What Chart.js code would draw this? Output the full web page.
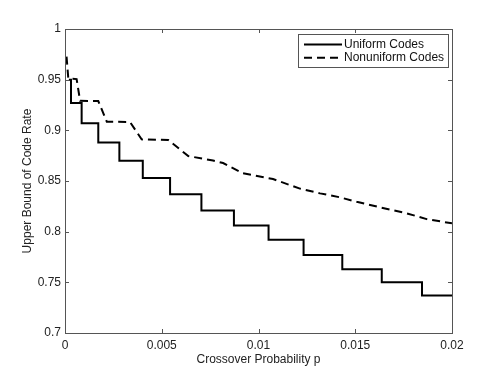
<!DOCTYPE html>
<html>
<head>
<meta charset="utf-8">
<script src="https://cdn.jsdelivr.net/npm/chart.js@4.4.1/dist/chart.umd.min.js"></script>
<style>
  body { margin: 0; background: #fff; }
  #wrap { width: 498px; height: 375px; }
</style>
</head>
<body>
<div id="wrap"><canvas id="myChart" width="498" height="375"></canvas></div>
<script>
// crossover probability where the uniform-code bound drops, and the new level
var uniformP = [0.0002, 0.00031, 0.00086, 0.00172, 0.00281, 0.00402, 0.00543, 0.00705, 0.00873, 0.01052, 0.01233, 0.01433, 0.01637, 0.01845, 0.02];
var uniformRate = [0.95, 0.927, 0.907, 0.888, 0.870, 0.853, 0.837, 0.821, 0.806, 0.792, 0.777, 0.763, 0.750, 0.737, 0.737];

var nonuniformP = [0.00008, 0.00017, 0.0006, 0.00078, 0.00172, 0.00216, 0.00336, 0.00396, 0.00534, 0.00637, 0.00765, 0.00817, 0.0092, 0.01075, 0.01214, 0.01318, 0.01421, 0.01507, 0.01628, 0.01766, 0.01869, 0.02];
var nonuniformRate = [0.9727, 0.9513, 0.9506, 0.9292, 0.9289, 0.9085, 0.9082, 0.8911, 0.8904, 0.8746, 0.8702, 0.8677, 0.8576, 0.8519, 0.8425, 0.8378, 0.8339, 0.8295, 0.8240, 0.8181, 0.8124, 0.8082];

var xTicks = [0, 0.005, 0.01, 0.015, 0.02];
var yTicks = [0.7, 0.75, 0.8, 0.85, 0.9, 0.95, 1];
var xTickLabels = ['0', '0.005', '0.01', '0.015', '0.02'];
var yTickLabels = ['0.7', '0.75', '0.8', '0.85', '0.9', '0.95', '1'];

function pts(xs, ys) {
  return xs.map(function (x, i) { return { x: x, y: ys[i] }; });
}

var axisColor = '#555';
var font = "'Liberation Sans', Arial, Helvetica, sans-serif";

// box, inward ticks on all sides and the legend, matlab style
var matlabAxes = {
  id: 'matlabAxes',
  afterDatasetsDraw: function (chart) {
    var c = chart.ctx, a = chart.chartArea;
    var xs = chart.scales.x, ys = chart.scales.y;
    c.save();
    c.strokeStyle = axisColor;
    c.lineWidth = 1;
    c.strokeRect(Math.round(a.left) + 0.5, Math.round(a.top) + 0.5, Math.round(a.right - a.left), Math.round(a.bottom - a.top));
    c.beginPath();
    xTicks.forEach(function (t) {
      var px = Math.round(xs.getPixelForValue(t)) + 0.5;
      c.moveTo(px, a.bottom); c.lineTo(px, a.bottom - 4);
      c.moveTo(px, a.top); c.lineTo(px, a.top + 4);
    });
    yTicks.forEach(function (t) {
      var py = Math.round(ys.getPixelForValue(t)) + 0.5;
      c.moveTo(a.left, py); c.lineTo(a.left + 4, py);
      c.moveTo(a.right, py); c.lineTo(a.right - 4, py);
    });
    c.stroke();

    // legend
    var bw = 150, bh = 33;
    var bx = Math.round(a.right) - 4 - bw, by = Math.round(a.top) + 5;
    c.fillStyle = '#fff';
    c.fillRect(bx, by, bw, bh);
    c.strokeStyle = axisColor;
    c.strokeRect(bx + 0.5, by + 0.5, bw, bh);
    chart.data.datasets.forEach(function (ds, i) {
      var ly = by + 10.5 + i * 13.3;
      c.beginPath();
      c.strokeStyle = ds.borderColor;
      c.lineWidth = ds.borderWidth;
      c.setLineDash(ds.borderDash || []);
      c.moveTo(bx + 6, ly); c.lineTo(bx + 44, ly);
      c.stroke();
      c.setLineDash([]);
      c.fillStyle = '#111';
      c.font = '12px ' + font;
      c.textBaseline = 'middle';
      c.textAlign = 'left';
      c.fillText(ds.label, bx + 46, ly);
    });
    c.restore();
  }
};

var ctx = document.getElementById('myChart');
var myChart = new Chart(ctx, {
  type: 'line',
  data: {
    datasets: [{
      label: 'Uniform Codes',
      data: pts(uniformP, uniformRate),
      stepped: 'before',
      borderColor: '#000',
      borderWidth: 2,
      pointRadius: 0,
      fill: false
    }, {
      label: 'Nonuniform Codes',
      data: pts(nonuniformP, nonuniformRate),
      borderColor: '#000',
      borderWidth: 2,
      borderDash: [8, 5],
      pointRadius: 0,
      tension: 0,
      fill: false
    }]
  },
  options: {
    responsive: false,
    animation: false,
    layout: { padding: { top: 29, right: 46, left: 0, bottom: 0 } },
    plugins: { legend: { display: false }, tooltip: { enabled: false } },
    scales: {
      x: {
        type: 'linear',
        min: 0,
        max: 0.02,
        afterBuildTicks: function (s) { s.ticks = xTicks.map(function (v) { return { value: v }; }); },
        afterFit: function (s) { s.height = 42; },
        grid: { display: false, drawTicks: false },
        border: { display: false },
        ticks: {
          padding: 5,
          color: '#222',
          font: { family: font, size: 12 },
          maxRotation: 0,
          callback: function (v, i) { return xTickLabels[i]; }
        },
        title: {
          display: true,
          text: 'Crossover Probability p',
          color: '#222',
          font: { family: font, size: 12 },
          padding: { top: 0, bottom: 8 }
        }
      },
      y: {
        min: 0.7,
        max: 1,
        afterBuildTicks: function (s) { s.ticks = yTicks.map(function (v) { return { value: v }; }); },
        afterFit: function (s) { s.width = 65; },
        grid: { display: false, drawTicks: false },
        border: { display: false },
        ticks: {
          padding: 4,
          color: '#222',
          font: { family: font, size: 12 },
          callback: function (v, i) { return yTickLabels[i]; }
        },
        title: {
          display: true,
          text: 'Upper Bound of Code Rate',
          color: '#222',
          font: { family: font, size: 12 },
          padding: { top: 20, bottom: 0 }
        }
      }
    }
  },
  plugins: [matlabAxes]
});
</script>
</body>
</html>
